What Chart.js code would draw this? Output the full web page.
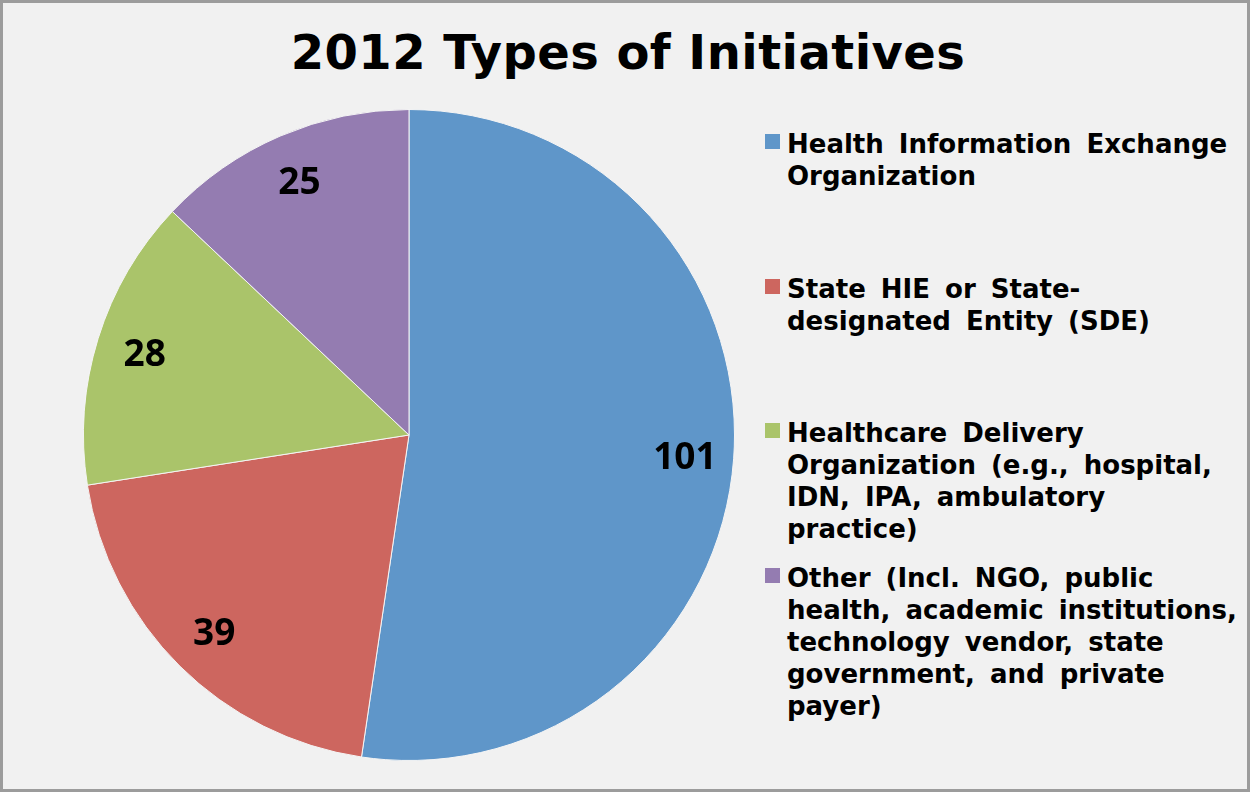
<!DOCTYPE html>
<html>
<head>
<meta charset="utf-8">
<script src="https://cdn.jsdelivr.net/npm/chart.js@4/dist/chart.umd.min.js"></script>
<style>
    html, body { margin: 0; padding: 0; background: #ffffff; }
    #frame {
        position: relative;
        width: 1250px;
        height: 792px;
        box-sizing: border-box;
        background: #f1f1f1;
        border: 3px solid #9c9c9c;
        overflow: hidden;
    }
    #title {
        position: absolute;
        left: 0;
        top: 25px;
        width: 1250px;
        text-align: center;
        font-family: "DejaVu Sans", Verdana, sans-serif;
        font-weight: bold;
        font-size: 48px;
        line-height: 48px;
        letter-spacing: 0.45px;
        color: #000;
    }
    #pieBox {
        position: absolute;
        left: 80px;
        top: 106px;
        width: 652px;
        height: 652px;
    }
    #legend {
        position: absolute;
        left: 762px;
        top: 125px;
        width: 480px;
    }
    .item {
        position: relative;
        height: 144.5px;
        padding-left: 22px;
        width: 452px;
        font-family: "DejaVu Sans", Verdana, sans-serif;
        font-weight: bold;
        font-size: 26px;
        line-height: 32px;
        word-spacing: 6px;
        color: #000;
    }
    .swatch {
        position: absolute;
        left: 0;
        top: 6px;
        width: 15px;
        height: 15px;
    }
</style>
</head>
<body>
<div id="frame">
    <div id="title"></div>
    <div id="pieBox"><canvas id="typesChart" width="652" height="652"></canvas></div>
    <div id="legend"></div>
</div>
<script>
// --- Data ---
const chartTitle = '2012 Types of Initiatives';
const categories = [
    'Health Information Exchange Organization',
    'State HIE or State-designated Entity (SDE)',
    'Healthcare Delivery Organization (e.g., hospital, IDN, IPA, ambulatory practice)',
    'Other (Incl. NGO, public health, academic institutions, technology vendor, state government, and private payer)'
];
const counts = [101, 39, 28, 25];
const sliceColors = ['#5f96c9', '#cd665f', '#aac46a', '#947cb1'];

document.getElementById('title').textContent = chartTitle;

// --- Value labels sitting near the rim of each slice ---
const sliceLabels = {
    id: 'sliceLabels',
    afterDatasetsDraw(chart) {
        const ctx = chart.ctx;
        const meta = chart.getDatasetMeta(0);
        ctx.save();
        ctx.font = 'bold 37px "Open Sans", sans-serif';
        ctx.fillStyle = '#000';
        ctx.textAlign = 'center';
        ctx.textBaseline = 'middle';
        meta.data.forEach((arc, i) => {
            const p = arc.getProps(['x', 'y', 'startAngle', 'endAngle', 'outerRadius'], true);
            const mid = (p.startAngle + p.endAngle) / 2;
            const r = p.outerRadius * 0.85;
            ctx.fillText(String(chart.data.datasets[0].data[i]), p.x + Math.cos(mid) * r, p.y + Math.sin(mid) * r + 3);
        });
        ctx.restore();
    }
};

const ctx = document.getElementById('typesChart').getContext('2d');
const chart = new Chart(ctx, {
    type: 'pie',
    data: {
        labels: categories,
        datasets: [{
            data: counts,
            backgroundColor: sliceColors,
            borderColor: '#f4f4f4',
            borderWidth: 1
        }]
    },
    options: {
        responsive: false,
        animation: false,
        layout: { padding: 0 },
        plugins: {
            legend: { display: false },
            title: { display: false },
            tooltip: { enabled: false }
        }
    },
    plugins: [sliceLabels]
});

// --- Legend built from the chart's own labels ---
const legendEl = document.getElementById('legend');
chart.data.labels.forEach((label, i) => {
    const item = document.createElement('div');
    item.className = 'item';
    const sw = document.createElement('span');
    sw.className = 'swatch';
    sw.style.background = chart.data.datasets[0].backgroundColor[i];
    item.appendChild(sw);
    item.appendChild(document.createTextNode(label));
    legendEl.appendChild(item);
});
</script>
</body>
</html>
